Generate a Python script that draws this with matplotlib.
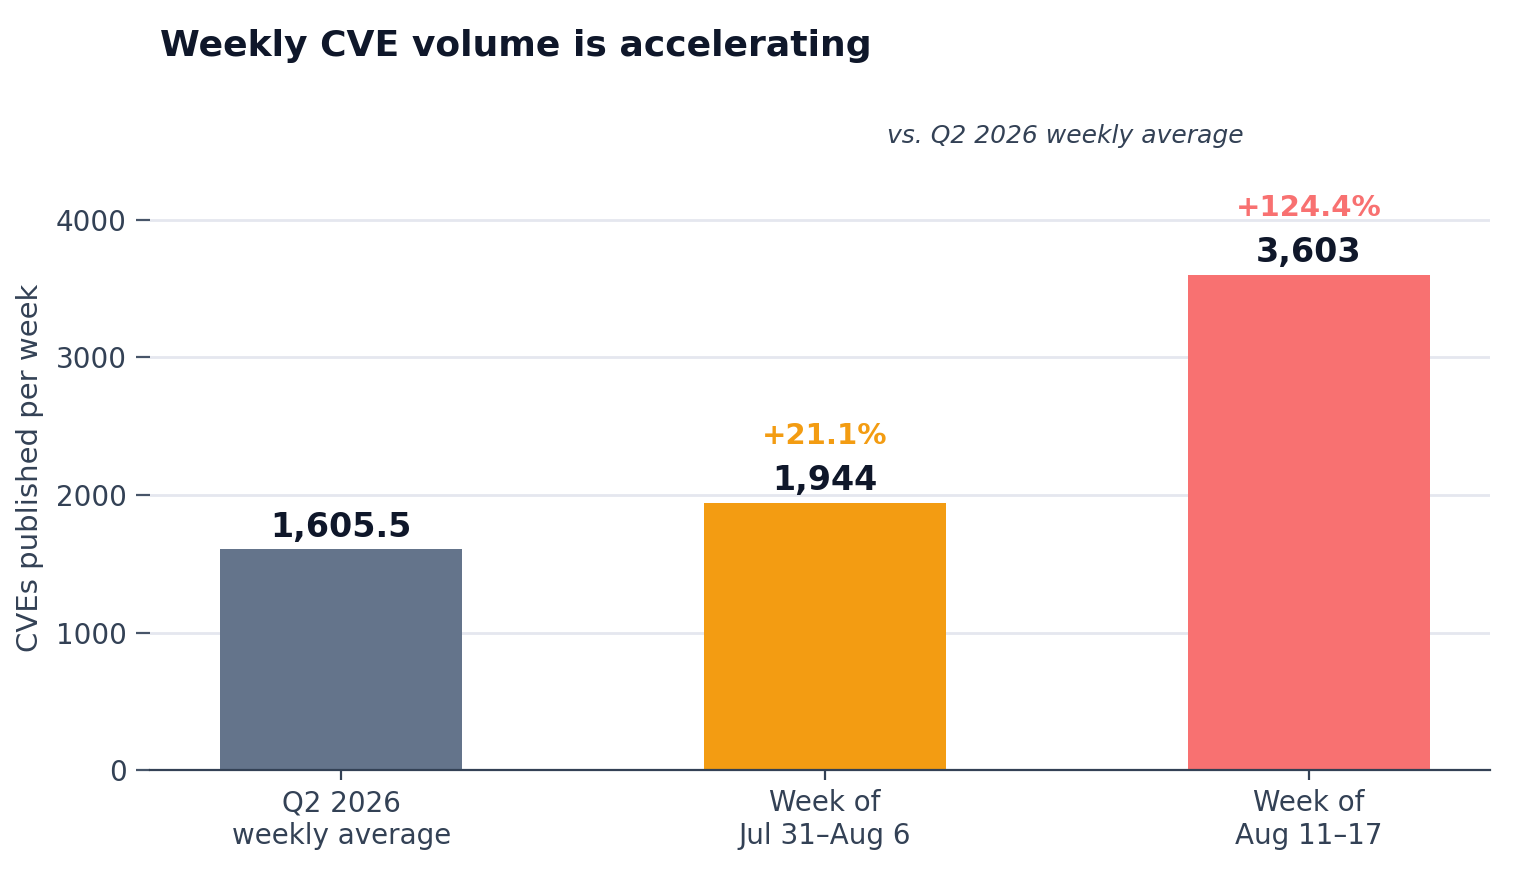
import matplotlib.pyplot as plt
import numpy as np

categories = ["Q2 2026\nweekly average", "Week of\nJul 31–Aug 6", "Week of\nAug 11–17"]
values = [1605.5, 1944, 3603]
value_labels = ["1,605.5", "1,944", "3,603"]
pct_labels = [None, "+21.1%", "+124.4%"]
colors = ["#64748b", "#f39c12", "#f87171"]

plt.rcParams["font.family"] = ["DejaVu Sans"]
fig = plt.figure(figsize=(7.6, 4.4), dpi=200)
ax = fig.add_axes([0.0987, 0.125, 0.8816, 0.6875])

x = np.arange(len(categories))
ax.bar(x, values, width=0.5, color=colors, zorder=2)
ax.set_xlim(-0.395, 2.374)
ax.set_ylim(0, 4400)
ax.set_yticks([0, 1000, 2000, 3000, 4000])
ax.set_xticks(x)
ax.set_xticklabels(categories)
ax.grid(axis="y", color="#e5e7ef", linewidth=1, zorder=0)
for s in ["top", "right", "left"]:
    ax.spines[s].set_visible(False)
ax.spines["bottom"].set_color("#334155")
ax.tick_params(colors="#334155", labelsize=10)
ax.tick_params(axis="y", length=5, color="#475569")
ax.set_ylabel("CVEs published per week", color="#334155", fontsize=10.5)

for i, v in enumerate(values):
    ax.text(i, v + 40, value_labels[i], ha="center", va="bottom",
            fontsize=12, fontweight="bold", color="#0f172a")
    if pct_labels[i]:
        ax.text(i, v + 380, pct_labels[i], ha="center", va="bottom",
                fontsize=10.5, fontweight="bold", color=colors[i])

fig.text(0.105, 0.948, "Weekly CVE volume is accelerating", fontsize=13,
         fontweight="bold", color="#0f172a", va="center")
fig.text(0.701, 0.845, "vs. Q2 2026 weekly average", fontsize=9,
         style="italic", color="#334155", ha="center", va="center")

fig.savefig("out.png", dpi=200)
